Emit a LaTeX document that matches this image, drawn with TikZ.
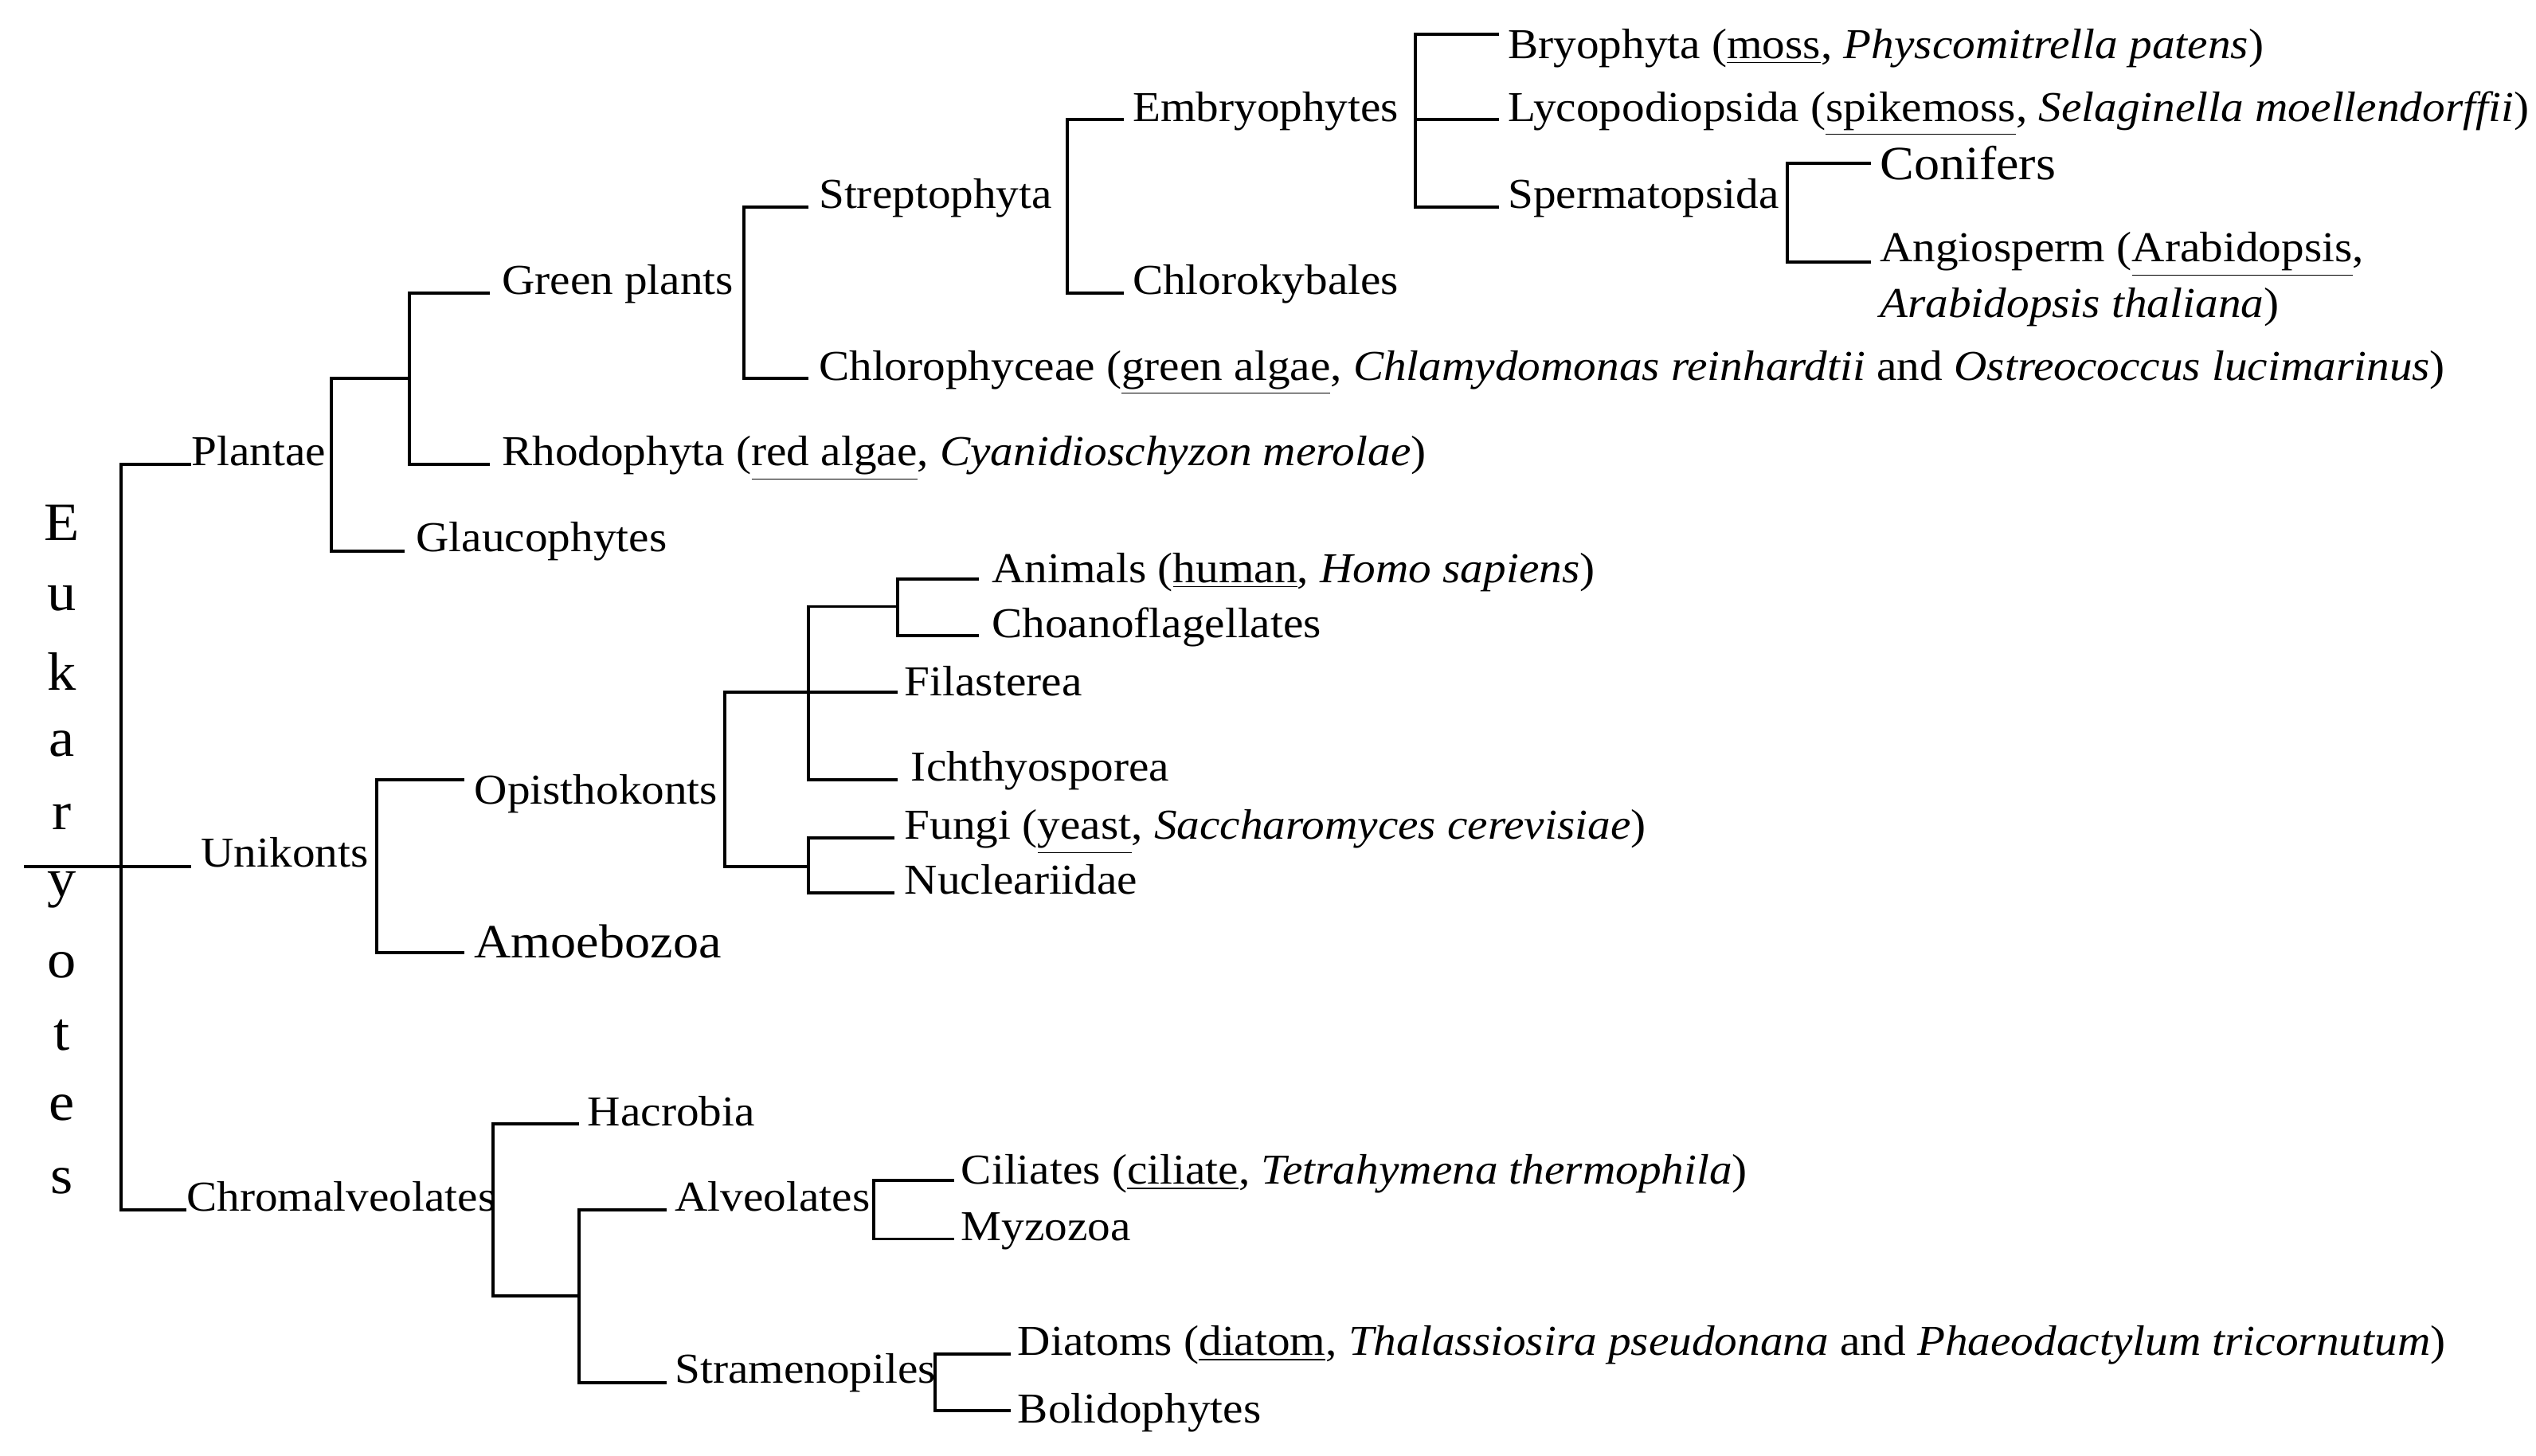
\documentclass[tikz,border=0pt]{standalone}
\usepackage{fontspec}
\setmainfont{Liberation Serif}[FakeStretch=1.07]
\begin{document}
\begin{tikzpicture}[x=0.02cm,y=-0.02cm,
  br/.style={line width=1.1pt},
  lab/.style={anchor=base west,inner sep=0pt,font=\fontsize{15}{17}\selectfont},
  big/.style={anchor=base west,inner sep=0pt,font=\fontsize{16.8}{19}\selectfont},
  let/.style={inner sep=0pt,font=\fontsize{19}{20}\selectfont}]
\useasboundingbox (0,0) rectangle (1568,900);
% Eukaryotes
\foreach \c/\y in {E/323,u/370,k/415,a/460,r/505,y/550,o/597,t/640,e/685,s/730}
  \node[let] (L\c) at (38,\y) {\c};
% labels
\node[lab] (plantae) at (118,288) {Plantae};
\node[lab] (unikonts) at (124,536) {Unikonts};
\node[lab] (chrom) at (115,749) {Chromalveolates};
\node[lab] (glauco) at (257,341) {Glaucophytes};
\node[lab] (green) at (310,182) {Green plants};
\node[lab] (rhodo) at (310,288) {Rhodophyta (\underline{red algae}, \textit{Cyanidioschyzon merolae})};
\node[lab] (strepto) at (506,129) {Streptophyta};
\node[lab] (chloroph) at (506,235) {Chlorophyceae (\underline{green algae}, \textit{Chlamydomonas reinhardtii} and \textit{Ostreococcus lucimarinus})};
\node[lab] (embryo) at (700,75) {Embryophytes};
\node[lab] (chlorok) at (700,182) {Chlorokybales};
\node[lab] (bryo) at (932,36) {Bryophyta (\underline{moss}, \textit{Physcomitrella patens})};
\node[lab] (lyco) at (932,75) {Lycopodiopsida (\underline{spikemoss}, \textit{Selaginella moellendorffii})};
\node[lab] (sperm) at (932,129) {Spermatopsida};
\node[big] (conif) at (1162,111) {Conifers};
\node[lab] (angio) at (1162,162) {Angiosperm (\underline{Arabidopsis},};
\node[lab] (angio2) at (1162,196) {\textit{Arabidopsis thaliana})};
\node[lab] (opis) at (293,497) {Opisthokonts};
\node[big] (amoeb) at (293,592) {Amoebozoa};
\node[lab] (animals) at (613,360) {Animals (\underline{human}, \textit{Homo sapiens})};
\node[lab] (choano) at (613,394) {Choanoflagellates};
\node[lab] (filas) at (559,430) {Filasterea};
\node[lab] (ichthy) at (563,483) {Ichthyosporea};
\node[lab] (fungi) at (559,519) {Fungi (\underline{yeast}, \textit{Saccharomyces cerevisiae})};
\node[lab] (nucl) at (559,553) {Nucleariidae};
\node[lab] (hacro) at (363,696) {Hacrobia};
\node[lab] (alveo) at (417,749) {Alveolates};
\node[lab] (strame) at (417,855) {Stramenopiles};
\node[lab] (cili) at (594,732) {Ciliates (\underline{ciliate}, \textit{Tetrahymena thermophila})};
\node[lab] (myzo) at (594,767) {Myzozoa};
\node[lab] (diat) at (629,838) {Diatoms (\underline{diatom}, \textit{Thalassiosira pseudonana} and \textit{Phaeodactylum tricornutum})};
\node[lab] (bolid) at (629,880) {Bolidophytes};
% branches
\draw[br] (15,536) -- (118,536);
\draw[br] (118,287) -- (75,287) -- (75,748) -- (115,748);
\draw[br] (250,341) -- (205,341) -- (205,234) -- (253,234);
\draw[br] (303,181) -- (253,181) -- (253,287) -- (303,287);
\draw[br] (500,128) -- (460,128) -- (460,234) -- (500,234);
\draw[br] (695,74) -- (660,74) -- (660,181) -- (695,181);
\draw[br] (927,21) -- (875,21) -- (875,128) -- (927,128);
\draw[br] (875,74) -- (927,74);
\draw[br] (1157,101) -- (1105,101) -- (1105,162) -- (1157,162);
% unikonts
\draw[br] (287,482) -- (233,482) -- (233,589) -- (287,589);
\draw[br] (555,428) -- (448,428) -- (448,536) -- (500,536);
\draw[br] (555,375) -- (500,375) -- (500,482) -- (555,482);
\draw[br] (605,358) -- (555,358) -- (555,393) -- (605,393);
\draw[br] (553,518) -- (500,518) -- (500,552) -- (553,552);
% chromalveolates
\draw[br] (358,695) -- (305,695) -- (305,801) -- (358,801);
\draw[br] (412,748) -- (358,748) -- (358,855) -- (412,855);
\draw[br] (590,730) -- (540,730) -- (540,766) -- (590,766);
\draw[br] (625,837) -- (578,837) -- (578,872) -- (625,872);
\end{tikzpicture}
\end{document}
